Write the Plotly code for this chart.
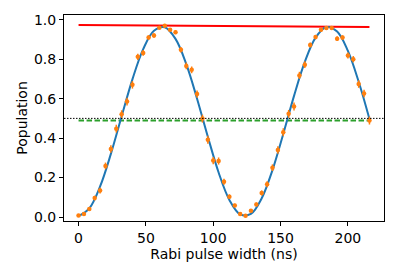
import plotly.graph_objects as go

# Measured data (Rabi pulse width in ns, population)
pulse_ns = list(range(0, 217, 4))
population = [0.008, 0.015, 0.041, 0.096, 0.134, 0.259, 0.345, 0.448, 0.521, 0.585,
              0.670, 0.812, 0.832, 0.910, 0.920, 0.960, 0.970, 0.949, 0.937, 0.848,
              0.766, 0.746, 0.623, 0.499, 0.392, 0.286, 0.284, 0.179, 0.103, 0.059,
              0.015, 0.007, 0.032, 0.064, 0.122, 0.166, 0.250, 0.340, 0.430, 0.523,
              0.560, 0.718, 0.772, 0.872, 0.912, 0.949, 0.958, 0.958, 0.904, 0.910,
              0.819, 0.800, 0.674, 0.626, 0.489]
pop_err = [0.004, 0.005, 0.008, 0.012, 0.014, 0.017, 0.019, 0.02, 0.02, 0.02,
           0.019, 0.016, 0.015, 0.011, 0.011, 0.008, 0.007, 0.009, 0.01, 0.014,
           0.017, 0.017, 0.019, 0.02, 0.02, 0.018, 0.018, 0.015, 0.012, 0.009,
           0.005, 0.004, 0.007, 0.01, 0.013, 0.015, 0.017, 0.019, 0.02, 0.02,
           0.02, 0.018, 0.017, 0.013, 0.011, 0.009, 0.008, 0.008, 0.012, 0.011,
           0.015, 0.016, 0.019, 0.019, 0.02]

# Fit curve
fit_ns = list(range(0, 217, 8))
fit_pop = [0.005, 0.044, 0.155, 0.320, 0.511, 0.698, 0.851, 0.944, 0.962, 0.903,
           0.775, 0.600, 0.407, 0.226, 0.087, 0.014, 0.016, 0.095, 0.238, 0.421,
           0.614, 0.786, 0.909, 0.963, 0.940, 0.842, 0.686, 0.497]

# Envelope (red) and offset (green) lines
env_ns = [0, 216]
env_pop = [0.973, 0.963]
offset_ns = [0, 216]
offset_pop = [0.489, 0.489]
half_level = 0.5

x_ticks = [0, 50, 100, 150, 200]
y_ticks = [0.0, 0.2, 0.4, 0.6, 0.8, 1.0]

FONT = dict(family="DejaVu Sans", size=14, color="black")

fig = go.Figure()
fig.add_trace(go.Scatter(x=env_ns, y=env_pop, mode="lines",
                         line=dict(color="red", width=2), showlegend=False))
fig.add_trace(go.Scatter(x=offset_ns, y=offset_pop, mode="lines",
                         line=dict(color="#2ca02c", width=2, dash="5.5px,2.5px"),
                         showlegend=False))
fig.add_hline(y=half_level, line=dict(color="black", width=1, dash="1.5px,1.5px"))
fig.add_trace(go.Scatter(x=fit_ns, y=fit_pop, mode="lines", line_shape="spline",
                         line=dict(color="#1f77b4", width=2), showlegend=False))
fig.add_trace(go.Scatter(x=pulse_ns, y=population, mode="markers",
                         marker=dict(color="#ff7f0e", size=4.5),
                         error_y=dict(type="data", array=pop_err, color="#ff7f0e",
                                      thickness=1.5, width=0),
                         showlegend=False))

axis_common = dict(showline=True, mirror=True, linecolor="black", linewidth=1,
                   ticks="outside", ticklen=4, tickwidth=1, tickcolor="black",
                   showgrid=False, zeroline=False, automargin=False,
                   tickfont=FONT)
fig.update_xaxes(range=[-10.8, 226.8], tickvals=x_ticks,
                 title=dict(text="Rabi pulse width (ns)", standoff=4, font=FONT),
                 **axis_common)
fig.update_yaxes(range=[-0.02, 1.024], tickvals=y_ticks, tickformat=".1f",
                 title=dict(text="Population", standoff=3, font=FONT),
                 **axis_common)
# the page body adds an 8px offset, so the figure is 8px smaller than the window
fig.update_layout(width=391, height=271, autosize=False,
                  margin=dict(l=56, r=15, t=7, b=58),
                  plot_bgcolor="white", paper_bgcolor="white")
fig.write_html("out.html")
